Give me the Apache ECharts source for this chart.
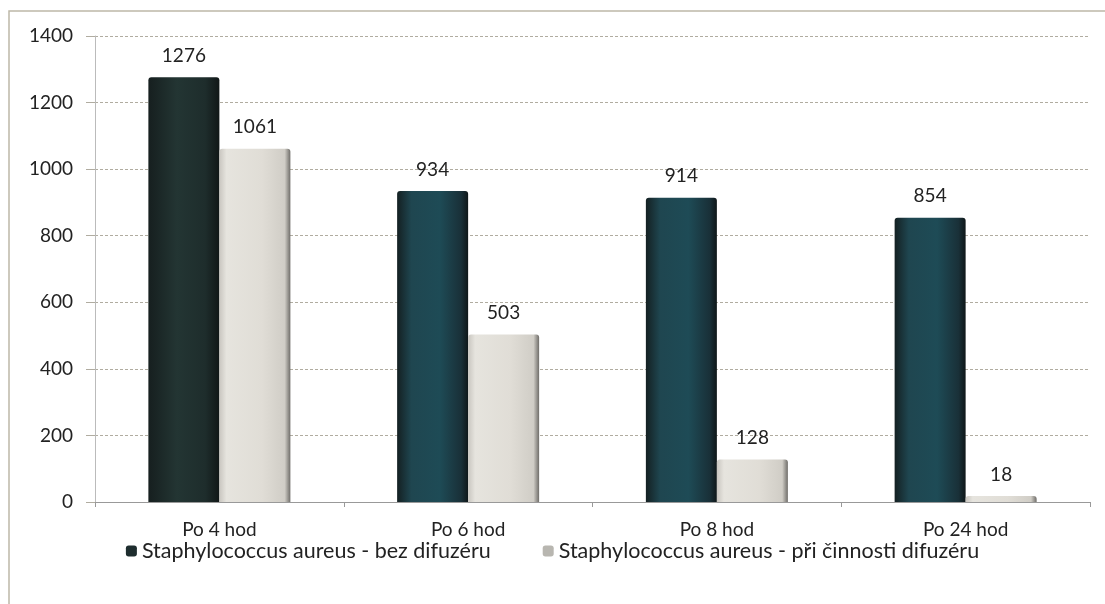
<!DOCTYPE html>
<html><head><meta charset="utf-8">
<script src="https://cdn.jsdelivr.net/npm/echarts@6/dist/echarts.min.js"></script>
<style>html,body{margin:0;padding:0;background:#fff;}#c{width:1105px;height:604px;}</style>
</head><body><div id="c"></div>
<script>
var categories = ["Po 4 hod", "Po 6 hod", "Po 8 hod", "Po 24 hod"];
var seriesNames = ["Staphylococcus aureus - bez difuzéru", "Staphylococcus aureus - při činnosti difuzéru"];
var bezDifuzeru = [1276, 934, 914, 854];
var priDifuzeru = [1061, 503, 128, 18];
var yTicks = [0, 200, 400, 600, 800, 1000, 1200, 1400];

var font = 'Lato';
var darkFill = new echarts.graphic.LinearGradient(0,0,1,0,[
  {offset:0,color:'#142022'},{offset:0.2,color:'#1f4650'},{offset:0.6,color:'#1e4b56'},{offset:0.9,color:'#193038'},{offset:1,color:'#0f1719'}]);
var darkFirst = new echarts.graphic.LinearGradient(0,0,1,0,[
  {offset:0,color:'#161f1f'},{offset:0.4,color:'#233533'},{offset:0.8,color:'#1e2d2c'},{offset:1,color:'#111717'}]);
var lightFill = new echarts.graphic.LinearGradient(0,0,1,0,[
  {offset:0,color:'#c9c6c0'},{offset:0.1,color:'#e6e4de'},{offset:0.6,color:'#e0ddd6'},{offset:0.92,color:'#d0cdc6'},{offset:1,color:'#6f6d69'}]);

var chart = echarts.init(document.getElementById('c'));
chart.setOption({
  animation:false,
  backgroundColor:'#fff',
  graphic:[{type:'rect',shape:{x:9,y:11,width:1100,height:600},style:{fill:'none',stroke:'#bdb8a8',lineWidth:1.5}}],
  grid:{left:95,right:15,top:36,bottom:102,containLabel:false},
  legend:{
    top:535, left:'center', itemWidth:11, itemHeight:11, itemGap:52,
    textStyle:{fontFamily:font,fontSize:21.5,color:'#222'},
    data:[{name:seriesNames[0],itemStyle:{color:'#1e2d2e'}},{name:seriesNames[1],itemStyle:{color:'#b8b6b0'}}]
  },
  xAxis:{type:'category',data:categories,
    axisLine:{lineStyle:{color:'#999',width:1}},
    axisTick:{show:true,length:5,lineStyle:{color:'#999'}},
    axisLabel:{fontFamily:font,fontSize:19,color:'#222',margin:18}},
  yAxis:{type:'value',min:0,max:1400,interval:200,
    axisLine:{show:true,lineStyle:{color:'#bbb'}},
    axisTick:{show:true,length:9,lineStyle:{color:'#b0aca0'}},
    splitLine:{lineStyle:{color:'#b0aca0',type:[3,2],width:1}},
    axisLabel:{fontFamily:font,fontSize:19,color:'#222',margin:22,
      formatter:function(v){return yTicks.indexOf(v)>=0?String(v):'';}}},
  series:[
    {name:seriesNames[0],type:'bar',barWidth:71,barGap:'0%',
     data:bezDifuzeru.map(function(v,i){return {value:v,itemStyle:{color:i===0?darkFirst:darkFill}};}),
     itemStyle:{borderRadius:[3,3,0,0]},
     label:{show:true,position:'top',distance:12,fontFamily:font,fontSize:19,color:'#222'}},
    {name:seriesNames[1],type:'bar',barWidth:71,
     data:priDifuzeru,
     itemStyle:{color:lightFill,borderRadius:[3,3,0,0]},
     label:{show:true,position:'top',distance:12,fontFamily:font,fontSize:19,color:'#222'}}
  ]
});
</script></body></html>
